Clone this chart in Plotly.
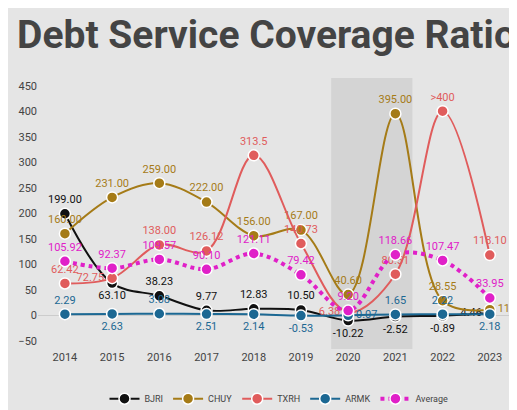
import plotly.graph_objs as go

years = [2014, 2015, 2016, 2017, 2018, 2019, 2020, 2021, 2022, 2023]

bjri = [199.00, 63.10, 38.23, 9.77, 12.83, 10.50, -10.22, -2.52, -0.89, 4.46]
chuy = [160.00, 231.00, 259.00, 222.00, 156.00, 167.00, 40.60, 395.00, 28.55, 11.09]
txrh = [62.42, 72.75, 138.00, 126.12, 313.5, 140.73, 6.38, 80.51, 400.0, 118.10]
armk = [2.29, 2.63, 3.08, 2.51, 2.14, -0.53, 0.07, 1.65, 2.22, 2.18]
average = [105.92, 92.37, 109.57, 90.10, 121.11, 79.42, 9.20, 118.66, 107.47, 33.95]

txrh_text = ["62.42", "72.75", "138.00", "126.12", "313.5", "140.73", "6.38", "80.51", ">400", "118.10"]

bjri_pos = ["top center", "bottom center", "top center", "top center", "top center",
            "top center", "bottom center", "bottom center", "bottom center", "middle left"]
armk_pos = ["top center", "bottom center", "top center", "bottom center", "bottom center",
            "bottom center", "middle right", "top center", "top center", "bottom center"]
chuy_pos = ["top center"] * 9 + ["middle right"]
txrh_pos = ["top center", "middle left", "top center", "top center", "top center",
            "top center", "middle left", "top center", "top center", "top center"]

fig = go.Figure()


def add(name, y, color, pos, text=None, dash=None):
    fig.add_trace(go.Scatter(
        x=years, y=y, name=name, mode="lines+markers+text",
        line=dict(color=color, width=2, shape="spline", dash=dash),
        marker=dict(size=11, color=color, line=dict(color="white", width=1.5)),
        text=text or [f"{v:.2f}" for v in y], textposition=pos,
        textfont=dict(color=color, size=11),
    ))


add("BJRI", bjri, "#111111", bjri_pos)
add("CHUY", chuy, "#a57b17", chuy_pos)
add("TXRH", txrh, "#e05c5c", txrh_pos, text=txrh_text)
add("ARMK", armk, "#1c6893", armk_pos)
fig.add_trace(go.Scatter(
    x=years, y=average, name="Average", mode="lines+markers+text",
    line=dict(color="#e020c8", width=4, shape="spline", dash="dot"),
    marker=dict(size=11, color="#e020c8", line=dict(color="white", width=1.5)),
    text=[f"{v:.2f}" for v in average], textposition="top center",
    textfont=dict(color="#e020c8", size=11),
))

fig.add_vrect(x0=2019.64, x1=2021.36, fillcolor="#d0d0d0", opacity=0.8,
              line_width=0, layer="below")

fig.update_layout(
    width=517, height=410,
    paper_bgcolor="#e5e5e5", plot_bgcolor="#e5e5e5",
    font=dict(family="Roboto", color="#444444", size=11),
    title=dict(text="<b>Debt Service Coverage Ratio</b>", x=0.5, y=0.97,
               font=dict(size=39, color="#444444", family="Roboto")),
    margin=dict(l=30, r=5, t=70, b=60),
    xaxis=dict(tickmode="array", tickvals=years, showgrid=False, zeroline=False,
               range=[2013.43, 2023.64]),
    yaxis=dict(range=[-66, 465], dtick=50, showgrid=False, zeroline=True,
               zerolinecolor="#cccccc", zerolinewidth=1),
    legend=dict(orientation="h", x=0.5, xanchor="center", y=-0.13,
                font=dict(size=9)),
)

fig.write_html("out.html")
